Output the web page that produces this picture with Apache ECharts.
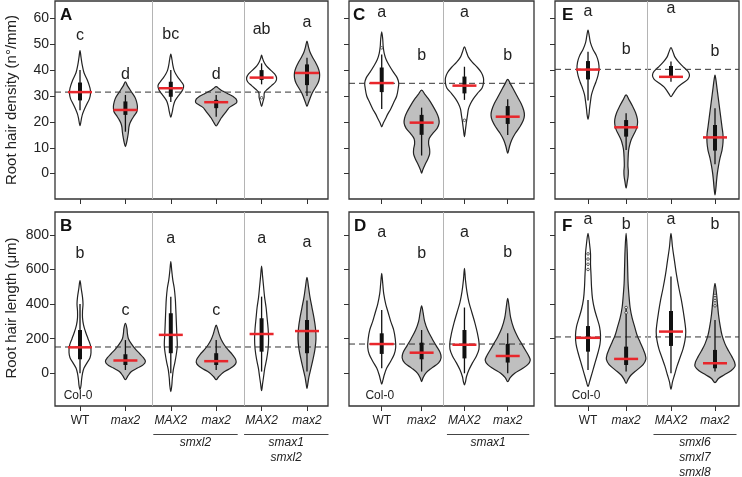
<!DOCTYPE html>
<html><head><meta charset="utf-8">
<script src="https://cdn.jsdelivr.net/npm/echarts@6/dist/echarts.min.js"></script>
<style>html,body{margin:0;padding:0;background:#fff}#c{width:742px;height:477px}</style>
</head><body><div id="c"></div><script>
// ---------------- DATA ----------------
const categoriesA = ['WT','max2','MAX2','max2','MAX2','max2'];
const categoriesC = ['WT','max2','MAX2','max2'];
const categoriesE = ['WT','max2','MAX2','max2'];
const mutantA = [0,1,0,1,0,1];
const mutantC = [0,1,0,1];
const mutantE = [0,1,0,1];
const yTicksDensity = [0,10,20,30,40,50,60];
const yTicksLength = [0,200,400,600,800];

// Panel A: root hair density (n°/mm)
const medianA = [31.5, 24.6, 33, 27.6, 37.1, 38.9];
const q1A = [28.3, 22.7, 29.7, 25.3, 36.2, 34.2];
const q3A = [35.2, 27.9, 35.5, 28.5, 40, 42.2];
const whiskLoA = [24.5, 16.2, 27.7, 22, 34.5, 30];
const whiskHiA = [40, 30.4, 40, 30.4, 42.6, 44.8];
const lettersA = ['c','d','bc','d','ab','a'];
const refA = 31.5;
const outliersA = [[], [], [], [], [29.3], []];
const shapesA = [
  [[47.5,0],[45,1],[42,2.2],[39,4],[36,7.5],[33,10],[31,10.5],[29,9.5],[27,7],[25,4.5],[23,2.5],[21,1.3],[18.5,0]],
  [[35.5,0],[34,2],[32.5,4.5],[31,7],[29.5,9.5],[28,11],[26,12],[24,11.5],[22.5,9],[21,6.5],[19.5,4.5],[18,3.5],[16,3],[14,2.2],[12,1.2],[10.4,0]],
  [[46.2,0],[44,1.2],[42,2],[40,3.2],[38.5,5],[37,7.5],[35.5,10.5],[34,12.8],[32.5,12],[31,9.5],[29.5,6.5],[28,4],[26,2.5],[24,1.5],[21.8,0]],
  [[33.6,0],[32.8,3],[31.8,7],[30.8,12],[29.8,17],[28.8,20],[27.5,20.5],[26.5,17],[25.5,13],[24.5,11],[23.5,9],[22.5,7],[21.5,5],[20.5,3.5],[19.5,2],[18.4,0]],
  [[45.8,0],[44.5,1],[43,2.5],[41.5,5],[40,9],[38.5,13],[37,15],[35.5,14],[34,10],[32.5,5.5],[31.5,3],[30.5,2.5],[29.5,2.5],[28,1.5],[26,0]],
  [[51.2,0],[49,1.5],[47,3],[45,5.5],[43,8.5],[41,11],[39,12.5],[37,12.5],[35,11],[33,8],[31,5],[29,3],[27.5,1.5],[26,0]]
];

// Panel C
const medianC = [35, 19.7, 34, 22];
const q1C = [31.5, 15, 31, 19.2];
const q3C = [41, 22.7, 37.5, 26.1];
const whiskLoC = [25, 7, 28.5, 14.9];
const whiskHiC = [46, 25.5, 41.3, 28.7];
const lettersC = ['a','b','a','b'];
const refC = 34.9;
const outliersC = [[48.6], [], [20.6], []];
const shapesC = [
  [[54.8,0],[52,1],[49,1.5],[46.5,2.5],[44,4.5],[41.5,8],[39,12],[37,15.5],[35,17],[33,16.5],[30,15],[27.5,12],[25,9],[23,6],[21,3.5],[19.5,1.5],[18.1,0]],
  [[32.3,0],[30.5,3.5],[28.5,7.5],[26,11.5],[23.5,15],[21.5,17],[19.5,17.5],[17.5,15.5],[15.5,11],[13.5,7.5],[11.5,7],[9.5,8],[7.5,8],[5.5,6],[3.5,3.5],[1.5,1.2],[0.2,0]],
  [[49,0],[47,2],[45,4],[43,8],[41,13],[39,17],[37,19],[35,19],[33,17.5],[31,13],[29,9],[27,6],[25,4],[22.5,3],[20,2],[17,1],[14.3,0]],
  [[36.4,0],[34.5,3],[32,6.5],[29.5,10],[27,13.5],[24.5,16],[22.5,16.7],[20.5,15.5],[18,12],[15.5,7.5],[13,4],[10.5,1.8],[7.9,0]]
];

// Panel E
const medianE = [40.2, 17.9, 37.4, 14];
const q1E = [36.4, 14.3, 37.2, 8.9];
const q3E = [43.5, 20.7, 41.6, 18.8];
const whiskLoE = [28.3, 9.1, 35.5, 3.6];
const whiskHiE = [47.1, 23.3, 43.3, 25.3];
const lettersE = ['a','b','a','b'];
const refE = 40.3;
const outliersE = [[], [], [], []];
const shapesE = [
  [[55.5,0],[53,1.3],[50.5,2.5],[48,5],[45.5,8.5],[43,10.5],[40.5,11],[38,10],[35.5,8],[33,5.5],[30.5,3.5],[28,2.5],[25,1.5],[23,1],[21,0]],
  [[30.4,0],[28.5,3],[26,6.5],[23.5,9.5],[21,11.3],[19,11.3],[17,10],[15,7.5],[13,5],[11,3.5],[9,2.5],[6,2],[3,1.8],[1,2.2],[-1,2],[-3,1.2],[-5.6,0]],
  [[48.7,0],[47,2],[45,4],[43,8],[41,13],[39.5,17],[38,18.5],[36.5,17],[35,12],[33.5,7],[32,4],[30.8,2],[29.7,0]],
  [[38.1,0],[36,1],[33,2],[30,3],[27,4],[24,5],[21,6],[18,7],[15,8],[12,8],[9,7],[6,5],[3,3.5],[0,2.3],[-3,1.5],[-6,0.8],[-8.2,0]]
];

// Panel B: root hair length (µm)
const medianB = [150, 74, 222, 70, 227, 244];
const q1B = [81, 48, 116, 48, 125, 116];
const q3B = [250, 110, 347, 116, 318, 308];
const whiskLoB = [0, 19, 0, 19, 10, 10];
const whiskHiB = [400, 192, 443, 192, 443, 420];
const lettersB = ['b','c','a','c','a','a'];
const refB = 152;
const outliersB = [[], [], [], [], [], []];
const shapesB = [
  [[535,0],[490,1.2],[440,2.5],[400,3],[360,2.5],[320,2.5],[280,3.5],[240,5.5],[200,8],[160,10.5],[120,11],[90,10],[60,7],[30,4],[0,2.5],[-40,1.5],[-70,1],[-95,0]],
  [[288,0],[260,1.5],[230,2],[200,3],[170,6],[140,10],[115,14],[90,18],[70,20],[50,18],[30,12],[10,6],[-15,2.5],[-37,0]],
  [[645,0],[590,1],[540,2],[490,3.5],[430,4.5],[370,5],[300,5.5],[230,6],[160,6.5],[110,5.5],[60,4],[20,2.5],[-30,1.5],[-70,1],[-106,0]],
  [[279,0],[255,1.5],[225,3],[195,5],[165,8],[135,12],[110,16],[85,19],[65,20],[45,18],[25,13],[5,7],[-20,2.5],[-37,0]],
  [[620,0],[560,1],[500,2],[440,3],[380,4.5],[320,5.5],[260,6.5],[200,7],[140,6.5],[80,5],[30,3.2],[-20,2],[-60,1],[-100,0]],
  [[555,0],[500,1.5],[440,3],[380,5],[320,7],[260,8.5],[200,9],[140,8],[80,6],[30,4],[-20,2],[-55,1],[-87,0]]
];

// Panel D
const medianD = [169, 119, 165, 100];
const q1D = [112, 81, 86, 62];
const q3D = [231, 177, 250, 170];
const whiskLoD = [29, 10, 0, 0];
const whiskHiD = [366, 250, 380, 231];
const lettersD = ['a','b','a','b'];
const refD = 169;
const outliersD = [[], [], [], []];
const shapesD = [
  [[578,0],[520,1],[460,2],[400,4],[350,6.5],[300,9],[250,12],[200,13.5],[150,14],[110,12.5],[70,9],[30,5],[-10,2.5],[-40,1.2],[-63,0]],
  [[389,0],[350,1.5],[300,3],[250,6],[200,10.5],[160,14.5],[120,18.5],[90,19.5],[60,17],[30,10],[0,4],[-25,1.5],[-48,0]],
  [[607,0],[540,1],[470,2.5],[410,4.5],[350,7.5],[290,10.5],[230,13],[180,14.5],[140,14.5],[100,12],[60,8],[20,4.5],[-20,2],[-50,1],[-67,0]],
  [[433,0],[380,1.5],[320,3],[260,6],[210,10],[170,14],[130,18],[100,21],[75,22.5],[50,20],[25,14],[0,7],[-25,2.5],[-48,0]]
];

// Panel F
const medianF = [205, 83, 241, 58];
const q1F = [125, 48, 158, 29];
const q3F = [273, 154, 360, 135];
const whiskLoF = [19, 10, 0, 10];
const whiskHiF = [424, 385, 559, 308];
const lettersF = ['a','b','a','b'];
const refF = 210;
const outliersF = [[690, 660, 630, 600], [380, 350], [], [450, 420, 390]];
const shapesF = [
  [[809,0],[750,1.5],[690,2.5],[630,2.5],[570,3],[500,3.5],[430,4.5],[370,6.5],[320,9],[270,11.5],[220,12.5],[170,12],[120,10],[70,7.5],[20,5],[-20,3],[-50,1.5],[-77,0]],
  [[809,0],[720,1],[620,1.5],[520,2],[440,3],[380,4],[320,6],[270,8.5],[220,11],[180,14],[140,17],[110,19],[80,19.7],[50,17],[20,11],[-10,5],[-35,2],[-58,0]],
  [[809,0],[730,1.5],[650,3.5],[570,5.5],[490,8],[420,10.5],[350,12.5],[290,14],[240,14.8],[190,14],[140,12],[90,9],[40,6],[-10,3.5],[-50,1.5],[-93,0]],
  [[520,0],[460,1.5],[400,2.5],[340,3.5],[280,5],[220,7],[170,10],[130,13.5],[95,17],[65,19.5],[40,20],[15,16],[-10,9],[-30,3.5],[-54,0]]
];

// ---------------- LAYOUT (positions / styles) ----------------
const FONT = '"Liberation Sans", Arial, sans-serif';
const INK = '#222';
const GRAY = '#bfbfbf';
const RED = '#e8262b';
const layoutAB = {left:55, width:273, xmin:0.449, xmax:6.463, unit:45.4, pos:[1,2,3,4,5,6], sep:[2.579,4.612]};
const layoutCD = {left:349, width:185, xmin:0.221, xmax:4.626, unit:42, pos:[1,1.95,2.97,4], sep:[2.467]};
const layoutEF = {left:555, width:184, xmin:0.220, xmax:4.567, unit:42.33, pos:[1,1.9,2.96,4], sep:[2.40]};
const rowTop = {top:1, height:198, ymin:-9.8, ymax:66.7, ticks:yTicksDensity};
const rowBot = {top:212, height:194, ymin:-189, ymax:932, ticks:yTicksLength};
const letterYA = [53.5, 38.1, 53.8, 38.1, 55.7, 58.3];
const letterYC = [62.3, 45.8, 62.3, 45.8];
const letterYE = [62.8, 47.8, 63.9, 47.1];
const letterYB = [690, 360, 776, 360, 776, 753];
const letterYD = [811, 690, 811, 695];
const letterYF = [886, 857, 886, 857];

const panels = [
  {L:layoutAB, R:rowTop, cats:categoriesA, mut:mutantA, med:medianA, q1:q1A, q3:q3A, lo:whiskLoA, hi:whiskHiA, let:lettersA, letY:letterYA, ref:refA, shapes:shapesA, out:outliersA, yLabels:true, xLabels:false},
  {L:layoutCD, R:rowTop, cats:categoriesC, mut:mutantC, med:medianC, q1:q1C, q3:q3C, lo:whiskLoC, hi:whiskHiC, let:lettersC, letY:letterYC, ref:refC, shapes:shapesC, out:outliersC, yLabels:false, xLabels:false},
  {L:layoutEF, R:rowTop, cats:categoriesE, mut:mutantE, med:medianE, q1:q1E, q3:q3E, lo:whiskLoE, hi:whiskHiE, let:lettersE, letY:letterYE, ref:refE, shapes:shapesE, out:outliersE, yLabels:false, xLabels:false},
  {L:layoutAB, R:rowBot, cats:categoriesA, mut:mutantA, med:medianB, q1:q1B, q3:q3B, lo:whiskLoB, hi:whiskHiB, let:lettersB, letY:letterYB, ref:refB, shapes:shapesB, out:outliersB, yLabels:true, xLabels:true},
  {L:layoutCD, R:rowBot, cats:categoriesC, mut:mutantC, med:medianD, q1:q1D, q3:q3D, lo:whiskLoD, hi:whiskHiD, let:lettersD, letY:letterYD, ref:refD, shapes:shapesD, out:outliersD, yLabels:false, xLabels:true},
  {L:layoutEF, R:rowBot, cats:categoriesE, mut:mutantE, med:medianF, q1:q1F, q3:q3F, lo:whiskLoF, hi:whiskHiF, let:lettersF, letY:letterYF, ref:refF, shapes:shapesF, out:outliersF, yLabels:false, xLabels:true}
];

const grid = [], xAxis = [], yAxis = [], series = [];
panels.forEach((p, k) => {
  grid.push({left:p.L.left, top:p.R.top, width:p.L.width, height:p.R.height, show:true,
    borderColor:'#333', borderWidth:1.3, backgroundColor:'transparent', containLabel:false});
  xAxis.push({type:'value', gridIndex:k, min:p.L.xmin, max:p.L.xmax, position:'bottom',
    axisLine:{show:false, onZero:false}, splitLine:{show:false},
    axisTick:{show:true, customValues:p.L.pos, length:5, lineStyle:{color:'#333', width:1}},
    axisLabel:{show:p.xLabels, customValues:p.L.pos, margin:9, color:INK, fontSize:12, fontFamily:FONT,
      formatter: v => { const i = p.L.pos.findIndex(q => Math.abs(q - v) < 1e-6); const c = p.cats[i] || '';
        return c === 'WT' ? '{n|' + c + '}' : '{i|' + c + '}'; },
      rich:{i:{fontStyle:'italic', fontSize:12, fontFamily:FONT, color:INK}, n:{fontSize:12, fontFamily:FONT, color:INK}}}
  });
  yAxis.push({type:'value', gridIndex:k, min:p.R.ymin, max:p.R.ymax, position:'left',
    axisLine:{show:false, onZero:false}, splitLine:{show:false},
    axisTick:{show:true, customValues:p.R.ticks, length:5, lineStyle:{color:'#333', width:1}},
    axisLabel:{show:p.yLabels, customValues:p.R.ticks, margin:6, color:INK, fontSize:14, fontFamily:FONT}
  });
  const ws = 1 / p.L.unit;
  const data = p.L.pos.map((x, i) => [x, p.med[i]]);
  // violin bodies
  series.push({type:'custom', xAxisIndex:k, yAxisIndex:k, z:2, silent:true, data,
    renderItem:(params, api) => {
      const i = params.dataIndex, x = p.L.pos[i], sh = p.shapes[i];
      const right = sh.map(([v, w]) => api.coord([x + w * ws, v]));
      const left = sh.slice(1, -1).reverse().map(([v, w]) => api.coord([x - w * ws, v]));
      return {type:'polygon', shape:{points:right.concat(left), smooth:0.35},
        style:{fill:p.mut[i] ? GRAY : '#fff', stroke:'#222', lineWidth:1.2}};
    }});
  // reference line and separators
  series.push({type:'custom', xAxisIndex:k, yAxisIndex:k, z:3, silent:true, data:[[p.L.xmin, p.ref]],
    renderItem:(params, api) => {
      const a = api.coord([p.L.xmin, p.ref]), b = api.coord([p.L.xmax, p.ref]);
      const ch = [{type:'line', shape:{x1:a[0], y1:a[1], x2:b[0], y2:b[1]},
        style:{stroke:'#333', lineWidth:1, lineDash:[6,4]}}];
      p.L.sep.forEach(s => {
        const t = api.coord([s, p.R.ymax]), u = api.coord([s, p.R.ymin]);
        ch.push({type:'line', shape:{x1:Math.round(t[0])+0.5, y1:t[1], x2:Math.round(t[0])+0.5, y2:u[1]},
          style:{stroke:'#b4b4b4', lineWidth:1}});
      });
      return {type:'group', children:ch};
    }});
  // box, whiskers, median, outliers, letters
  series.push({type:'custom', xAxisIndex:k, yAxisIndex:k, z:4, silent:true, data,
    renderItem:(params, api) => {
      const i = params.dataIndex, x = p.L.pos[i];
      const c = api.coord([x, 0])[0];
      const top = api.coord([x, p.hi[i]])[1], bot = api.coord([x, p.lo[i]])[1];
      const b3 = api.coord([x, p.q3[i]])[1], b1 = api.coord([x, p.q1[i]])[1];
      const m = api.coord([x, p.med[i]])[1];
      const ml = api.coord([x - 12 * ws, p.med[i]])[0], mr = api.coord([x + 12 * ws, p.med[i]])[0];
      const lp = api.coord([x, p.letY[i]]);
      const ch = [
        {type:'line', shape:{x1:c, y1:top, x2:c, y2:bot}, style:{stroke:'#111', lineWidth:1.3}},
        {type:'rect', shape:{x:c - 2, y:b3, width:4, height:b1 - b3}, style:{fill:'#111'}},
        {type:'line', shape:{x1:ml, y1:m, x2:mr, y2:m}, style:{stroke:RED, lineWidth:2.5}},
        {type:'text', x:lp[0], y:lp[1], style:{text:p.let[i], fontSize:16, fontFamily:FONT, fill:INK, align:'center', verticalAlign:'middle'}}
      ];
      p.out[i].forEach(v => { const o = api.coord([x, v]);
        ch.push({type:'circle', shape:{cx:o[0], cy:o[1], r:1.3}, style:{fill:'#fff', stroke:'#333', lineWidth:0.8}}); });
      return {type:'group', children:ch};
    }});
});

const chart = echarts.init(document.getElementById('c'), null, {renderer:'canvas'});
chart.setOption({animation:false, backgroundColor:'#fff', grid, xAxis, yAxis, series});

// annotations positioned from the axes
const groupsB = [{pos:[3,4], lines:['smxl2']}, {pos:[5,6], lines:['smax1','smxl2']}];
const groupsD = [{pos:[3,4], lines:['smax1']}];
const groupsF = [{pos:[3,4], lines:['smxl6','smxl7','smxl8']}];
const graphic = [];
[[3, groupsB, layoutAB], [4, groupsD, layoutCD], [5, groupsF, layoutEF]].forEach(([ax, groups, L]) => {
  groups.forEach(g => {
    const x1 = chart.convertToPixel({xAxisIndex:ax}, L.pos[g.pos[0]-1]) - 17.5;
    const x2 = chart.convertToPixel({xAxisIndex:ax}, L.pos[g.pos[1]-1]) + 21.5;
    graphic.push({type:'line', shape:{x1, y1:434.5, x2, y2:434.5}, style:{stroke:'#444', lineWidth:1}});
    g.lines.forEach((t, j) => graphic.push({type:'text', x:(x1 + x2) / 2, y:443 + 15 * j,
      style:{text:t, font:'italic 12px ' + FONT, fill:INK, align:'center', verticalAlign:'middle'}}));
  });
  const wx = chart.convertToPixel({xAxisIndex:ax}, L.pos[0]);
  graphic.push({type:'text', x:wx - 2, y:396, style:{text:'Col-0', font:'12px ' + FONT, fill:INK, align:'center', verticalAlign:'middle'}});
});
[['A',60,15],['C',353,15],['E',562,15],['B',60,226],['D',354,226],['F',562,226]].forEach(([t, x, y]) =>
  graphic.push({type:'text', x, y, style:{text:t, font:'bold 17px ' + FONT, fill:'#111', align:'left', verticalAlign:'middle'}}));
graphic.push({type:'text', x:12, y:100, rotation:Math.PI/2, style:{text:'Root hair density (n°/mm)', font:'15px ' + FONT, fill:INK, align:'center', verticalAlign:'middle'}});
graphic.push({type:'text', x:12, y:308, rotation:Math.PI/2, style:{text:'Root hair length (μm)', font:'15px ' + FONT, fill:INK, align:'center', verticalAlign:'middle'}});
chart.setOption({graphic});
</script></body></html>
